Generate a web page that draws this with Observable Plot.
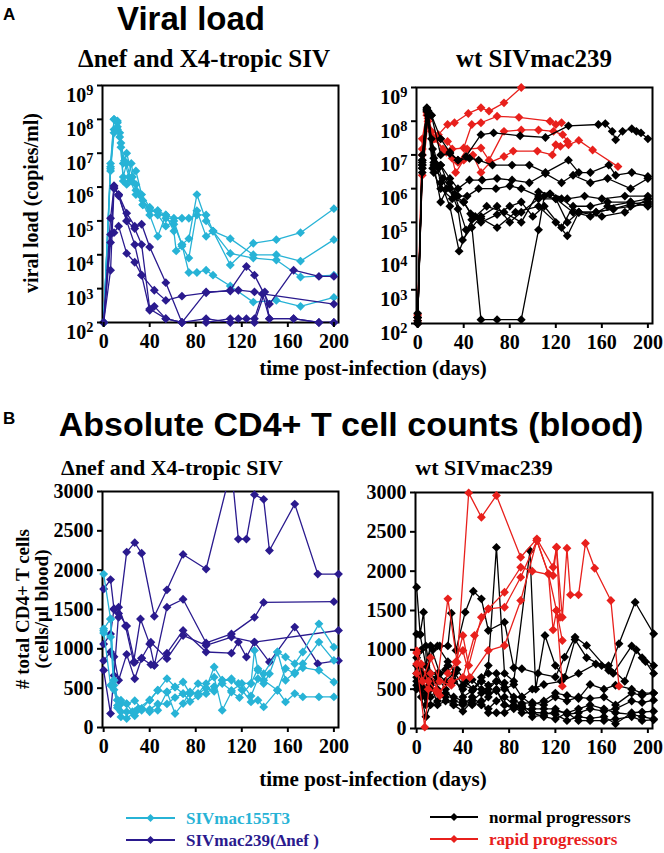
<!DOCTYPE html>
<html><head><meta charset="utf-8">
<script src="https://cdn.jsdelivr.net/npm/d3@7"></script>
<script src="https://cdn.jsdelivr.net/npm/@observablehq/plot@0.6"></script>
<style>
body{margin:0;background:#fff;}
#c{position:relative;width:664px;height:853px;overflow:hidden;background:#fff;}
#c > svg{position:absolute;}
</style></head><body><div id="c"></div>
<script>
// ---------- ticks ----------
const xTicks = [0, 40, 80, 120, 160, 200];
const vlTicks = [1e2, 1e3, 1e4, 1e5, 1e6, 1e7, 1e8, 1e9];
const cdTicks = [0, 500, 1000, 1500, 2000, 2500, 3000];

// ---------- A: viral load, Δnef / X4-tropic panel ----------
const vlT3 = [
 [[0,100],[6,5e6],[9,1e8],[12,9e7],[14,4e7],[17,5e6],[20,1e7],[25,2e6],[28,3e6],[33,6e5],[40,2.5e5],[47,2e5],[54,1.5e5],[61,1.2e5],[68,1.2e5],[74,1.2e5],[81,1.5e5],[89,1.5e5],[95,5e4],[110,5e3],[130,2.2e4],[150,2.8e4],[171,4.5e4],[200,2.3e5]],
 [[0,100],[6,4e6],[9,5e7],[12,8e7],[14,3e7],[17,2e6],[20,5e6],[24,1.5e6],[28,1.2e6],[31,6e5],[34,3e5],[40,2.5e5],[47,1.5e5],[54,7e4],[61,1e5],[68,2e4],[74,3e4],[81,6e5],[89,1e5],[95,5e4],[110,3e4],[130,1e4],[150,1e4],[171,6.5e3],[200,2.8e4]],
 [[0,100],[6,3e6],[9,4e7],[12,5e7],[15,1.5e7],[17,1.5e6],[20,1.2e6],[24,5e6],[28,8e5],[34,3e5],[40,1.5e5],[47,3.5e4],[54,1.5e5],[61,5e4],[63,1.3e4],[68,1.8e4],[74,8e3],[81,2e5],[89,3.5e4],[95,5e4],[110,1.1e4],[130,8e3],[150,7e3],[171,2.2e3],[200,2.5e3]],
 [[0,100],[6,3.5e6],[9,1e8],[12,6e7],[15,2e7],[18,6e6],[22,2e6],[28,6e5],[34,4e5],[40,2e5],[47,2e5],[54,1.2e5],[61,8e4],[68,2e4],[74,3e3],[81,3e3],[89,3.5e3],[95,2.5e3],[110,1.2e3],[130,4e2],[150,4.5e2],[171,3e2],[200,5.5e2]]
];
const vlDelta = [
 [[0,100],[6,2.3e4],[9,1.1e6],[13,6e5],[20,1.7e5],[27,7e4],[33,8e4],[40,1.7e4],[54,1.5e3],[68,100],[89,8e2],[110,8.5e2],[117,9e2],[131,8e2],[138,7e2],[200,3.5e2]],
 [[0,100],[6,3.5e3],[9,9e5],[13,6e5],[20,1e5],[27,2e4],[33,2.5e3],[40,2.3e2],[44,3e2],[54,1.3e2],[68,100],[89,100],[110,1.3e2],[117,1.3e2],[124,1.3e2],[131,1.3e2],[138,7e2],[144,1.3e2],[165,1.3e2],[187,100],[200,100]],
 [[0,100],[6,4e4],[9,4.5e4],[13,7e4],[20,1.1e4],[27,6e3],[33,2.5e3],[44,9e2],[54,4.5e2],[68,6e2],[89,7.5e2],[110,9e2],[124,4.5e3],[131,2.5e3],[144,3.5e2],[165,3.5e3],[187,2.3e3],[200,2.3e3]],
 [[0,100],[6,1.2e5],[9,1e6],[13,5.5e5],[20,1e5],[27,6e4],[33,2e4],[40,2.5e2],[54,1.3e2],[68,100],[89,1.3e2],[110,100],[131,100],[140,8e2],[144,1.3e2],[165,1.3e2],[187,100],[200,100]]
];

// ---------- A: viral load, wt SIVmac239 panel ----------
const vlRapid = [
 [[0,150],[4,3e7],[8,1.8e8],[12,5e7],[18,4e7],[26,8e7],[32,9e7],[44,1.7e8],[55,2.5e8],[62,2e8],[75,3.5e8],[90,1e9]],
 [[0,120],[4,1.5e7],[8,1.5e8],[13,3e7],[20,3e7],[26,2.5e7],[30,1.5e7],[40,1.6e7],[47,8e7],[55,9e7],[69,1.4e8],[88,1.3e8],[115,1e8],[120,8e7],[125,9e7]],
 [[0,180],[4,2.5e6],[9,1e8],[14,3e7],[22,1.5e7],[30,8e6],[33,3e6],[40,7e6],[48,1e7],[55,3e6],[63,6e6],[75,9e6],[83,1.3e7],[104,1.3e7],[117,1e7],[120,2e7],[124,1.8e7],[131,2e7],[140,2.7e7],[152,1.4e7],[174,4.5e6]],
 [[0,100],[4,1e7],[9,1.2e8],[15,3e7],[25,1.2e7],[35,6e6],[43,1.5e7],[55,1.6e7],[62,7e6],[75,5e7],[90,5.5e7],[105,5.5e7],[118,5e7],[126,4e7],[130,2.5e7]]
];
const vlNormal = [
 [[0,100],[4,7e6],[8,2.5e8],[12,1.5e8],[20,3e7],[28,1.2e7],[35,7e6],[42,9e6],[55,4e7],[66,4.5e7],[89,3.7e7],[111,3.3e7],[131,7.3e7],[157,8e7],[163,8.5e7],[169,5e7],[172,2.8e7],[178,5e7],[186,6e7],[190,5e7],[194,4.5e7],[200,3e7]],
 [[0,150],[4,4e6],[8,2e8],[12,3e7],[18,4e6],[25,1e6],[33,6e5],[40,4e5],[46,1.8e5],[55,130],[69,130],[90,130],[105,6e4],[110,6e5],[120,5e5],[130,1e5],[140,2e5],[155,2e5],[170,2.5e5],[185,3.5e5],[200,4e5]],
 [[0,100],[4,1e7],[8,2e8],[13,1.5e7],[20,1.5e6],[28,3e5],[36,1.4e4],[47,1.2e5],[55,1.3e5],[69,7e4],[85,2e5],[105,3e5],[120,1e5],[130,4e4],[140,2e5],[155,2e5],[170,2.5e5],[185,3e5],[200,3.5e5]],
 [[0,200],[4,5e6],[9,2e8],[14,8e6],[20,5e6],[28,1e6],[35,2.5e5],[39,3e4],[47,7e4],[55,1.5e5],[69,3e5],[80,1e5],[90,2e5],[105,5e5],[120,5e5],[135,2e5],[150,1.5e5],[165,3e5],[185,4e5],[200,5e5]],
 [[0,100],[4,7e6],[8,2.3e8],[12,1.5e8],[20,1e7],[28,1.1e7],[35,7e6],[45,8e6],[53,7e6],[65,5e6],[82,5e6],[97,5e6],[111,3e6],[131,7e6],[140,3e6],[150,3e6],[166,5e6],[172,2.5e6],[186,3e6],[200,2.3e6]],
 [[0,100],[4,4e6],[9,1.5e8],[14,6e6],[20,5e6],[28,2e6],[35,1e6],[45,1.8e6],[56,1.8e6],[69,2e6],[82,1.8e6],[97,1.5e6],[111,2.8e6],[125,1.5e6],[135,2.5e6],[150,1.5e6],[165,2e6],[185,1e6],[200,2e6]],
 [[0,120],[4,3e6],[9,1.8e8],[14,5e6],[20,4e5],[28,1.5e6],[35,6e5],[43,6e5],[53,1e6],[68,1e6],[80,1.2e6],[90,1e6],[105,6e5],[115,7e5],[130,5e5],[145,6e5],[160,5e5],[180,6e5],[200,6e5]],
 [[0,150],[4,5e6],[9,2e8],[14,3e6],[20,1e6],[30,5e5],[40,4e5],[48,1.5e5],[55,1e5],[69,1.7e5],[80,3e5],[90,4e5],[100,1.5e5],[110,3e5],[125,7e4],[135,3e5],[150,3e5],[165,4e5],[185,4e5],[200,3e5]],
 [[0,100],[4,6e6],[8,2.2e8],[13,4e6],[22,2e6],[32,7e5],[42,6e4],[50,1.5e5],[60,3e5],[75,2e5],[90,1e5],[105,8e5],[115,7e5],[125,5e5],[140,2e5],[160,1.5e5],[180,2e5],[200,5e5]]
];

// ---------- B: CD4 counts, Δnef / X4-tropic panel ----------
const cdT3 = [
 [[0,1950],[6,1380],[9,600],[12,350],[15,300],[20,300],[25,200],[30,240],[40,350],[47,473],[55,621],[62,515],[69,579],[75,431],[82,558],[89,500],[96,769],[103,600],[111,600],[117,560],[128,560],[131,980],[134,727],[139,684],[151,959],[158,896],[166,811],[173,959],[187,1318],[200,1022]],
 [[0,1255],[6,1380],[9,536],[12,346],[15,346],[20,304],[27,340],[33,240],[40,200],[47,220],[55,452],[62,177],[69,304],[75,452],[82,431],[89,558],[96,640],[103,220],[111,452],[118,380],[128,558],[134,748],[139,600],[151,473],[158,750],[166,684],[173,811],[187,1086],[200,853]],
 [[0,1230],[6,536],[9,600],[12,250],[15,135],[20,114],[27,200],[33,240],[40,346],[47,473],[55,452],[62,515],[69,430],[75,430],[82,430],[89,500],[96,460],[103,600],[111,620],[120,480],[128,325],[134,346],[139,262],[151,473],[158,325],[166,431],[173,389],[187,389],[200,389]],
 [[0,1200],[6,1150],[9,480],[12,280],[15,200],[20,200],[27,150],[33,220],[40,230],[47,300],[55,300],[62,380],[69,430],[75,330],[82,400],[89,430],[96,520],[103,560],[111,470],[120,560],[128,400],[134,620],[139,560],[144,684],[151,960],[158,600],[166,700],[173,760],[187,727],[200,579]]
];
const cdDelta = [
 [[0,1760],[6,1880],[9,1500],[13,1400],[20,2230],[27,2350],[33,2215],[44,1415],[55,1750],[69,2200],[89,2015],[111,3300],[117,2395],[124,2395],[131,2960],[139,2900],[144,2250],[166,2840],[186,1950],[204,1950]],
 [[0,1060],[6,1190],[9,1510],[13,1530],[19,1290],[26,830],[32,1380],[40,1060],[44,790],[55,1530],[69,1630],[89,1075],[111,1190],[131,1400],[139,1590],[200,1600]],
 [[0,850],[6,960],[9,900],[13,600],[20,930],[27,620],[33,880],[41,800],[44,790],[55,945],[69,1234],[89,960],[111,945],[117,1086],[124,896],[131,1086],[144,832],[166,1276],[186,811],[204,850]],
 [[0,727],[6,177],[9,660],[13,1450],[20,1290],[27,830],[33,880],[41,1084],[55,875],[69,1170],[89,1043],[111,1150],[131,1086],[204,1234]]
];

// ---------- B: CD4 counts, wt SIVmac239 panel ----------
const cdNormal = [
 [[0,1796],[3,1200],[6,1479],[9,700],[14,1000],[20,1050],[27,1050],[30,1466],[34,993],[42,1479],[49,1745],[56,1648],[62,1246],[76,1352],[84,773],[91,760],[105,700],[120,655],[128,908],[137,1162],[147,1056],[166,739],[175,1077],[189,1605],[205,1204]],
 [[0,1200],[3,1190],[8,800],[12,1050],[20,700],[27,800],[35,750],[42,600],[49,500],[56,600],[62,800],[69,2302],[76,700],[84,600],[98,2260],[103,500],[111,1183],[120,800],[128,650],[137,1130],[147,900],[160,800],[170,700],[186,1050],[195,900],[205,800]],
 [[0,900],[4,600],[8,500],[12,1050],[18,1050],[27,850],[33,700],[40,550],[49,500],[56,650],[62,700],[69,700],[76,500],[84,560],[91,400],[100,500],[110,560],[125,600],[140,700],[155,820],[166,800],[180,600],[190,1000],[198,850],[205,700]],
 [[0,700],[4,500],[8,300],[12,550],[18,700],[25,600],[32,700],[40,400],[48,480],[56,600],[62,550],[69,600],[76,580],[84,350],[91,320],[100,330],[110,300],[120,400],[130,350],[140,400],[150,380],[162,400],[172,300],[186,450],[195,420],[205,450]],
 [[0,600],[4,400],[8,150],[12,300],[18,350],[25,450],[32,400],[40,350],[48,320],[56,300],[62,400],[69,500],[76,300],[84,280],[91,250],[100,250],[110,250],[120,250],[130,180],[140,200],[150,250],[162,220],[172,250],[186,350],[195,330],[205,360]],
 [[0,500],[4,700],[8,400],[12,500],[18,650],[25,500],[32,350],[40,320],[48,300],[56,350],[62,200],[69,200],[76,200],[84,280],[91,200],[100,200],[110,200],[120,180],[130,100],[140,150],[150,130],[162,150],[172,60],[186,200],[195,210],[205,220]],
 [[0,650],[4,550],[8,450],[12,400],[18,500],[25,400],[32,300],[40,300],[48,400],[56,300],[62,250],[69,350],[76,400],[84,300],[91,280],[100,150],[110,170],[120,220],[130,200],[140,100],[150,100],[162,100],[172,120],[186,150],[195,100],[205,110]],
 [[0,550],[4,800],[8,650],[12,600],[18,300],[25,350],[32,300],[40,220],[48,350],[56,450],[62,500],[69,600],[76,520],[84,400],[91,400],[100,300],[110,350],[120,450],[130,420],[140,380],[150,560],[162,500],[172,550],[186,500],[195,450],[205,450]],
 [[0,800],[4,1000],[8,1050],[12,700],[18,600],[25,750],[32,600],[40,500],[48,620],[56,500],[62,450],[69,480],[76,300],[84,250],[91,300],[100,200],[110,150],[120,120],[130,200],[140,250],[150,300],[162,250],[172,200],[186,180],[195,150],[205,120]]
];
const cdRapid = [
 [[0,990],[4,820],[10,600],[17,486],[27,1648],[35,843],[45,2995],[56,2686],[69,2962],[90,2177],[104,2411],[118,2050],[121,2304],[126,1415],[130,2292],[133,1699],[140,1699],[146,2355],[154,2037],[168,1627],[175,538]],
 [[0,820],[7,17],[12,700],[20,420],[27,700],[34,843],[40,1182],[45,800],[56,1415],[62,1521],[76,1542],[90,1923],[104,2390],[114,1966],[118,1254],[121,1500],[126,1118]],
 [[0,960],[5,600],[12,900],[20,600],[30,550],[34,850],[40,991],[46,650],[62,991],[76,1055],[90,1627],[104,2390],[114,1966],[121,1500],[126,538]],
 [[0,700],[10,500],[18,450],[30,600],[40,650],[50,1182],[62,1521],[76,1732],[90,2050],[100,2000],[118,1945],[121,2304],[124,1415]]
];

// ---------- legend labels ----------
const legendLeft = ["SIVmac155T3", "SIVmac239(\u0394nef )"];
const legendRight = ["normal progressors", "rapid progressors"];

// ---------- styles ----------
const CYAN = "#27b3d6", NAVY = "#2a1a8e", RED = "#e8201c", BLACK = "#000";
const SERIF = "'Liberation Serif','Times New Roman',serif";
const SANS = "'Liberation Sans',Arial,Helvetica,sans-serif";
const container = document.getElementById("c");

function rowsOf(series) {
  const out = [];
  series.forEach((s, i) => s.forEach(([d, v]) => out.push({id: i, day: d, value: v})));
  return out;
}

function panel({left, top, width, height, mL, mT, mB, mR, log, groups}) {
  const yMax = log ? 1e9 : 3000;
  const marks = [Plot.frame({stroke: "black", strokeWidth: 2})];
  for (const g of groups) {
    const rows = rowsOf(g.data);
    marks.push(Plot.line(rows, {x: "day", y: "value", z: "id", stroke: g.color, strokeWidth: 1.3, clip: true}));
    marks.push(Plot.dot(rows.filter(r => r.value <= yMax), {x: "day", y: "value", symbol: "diamond2", r: 4, fill: g.color, stroke: "none"}));
  }
  marks.push(Plot.axisX(xTicks, {tickSize: 5, tickPadding: 6, strokeWidth: 2, label: null}));
  marks.push(Plot.axisY(log ? vlTicks : cdTicks, {
    tickSize: 5, tickPadding: 4, strokeWidth: 2, label: null,
    tickFormat: log ? (d => "10^" + Math.round(Math.log10(d))) : (d => String(d))
  }));
  const svg = Plot.plot({
    width, height, marginLeft: mL, marginTop: mT, marginBottom: mB, marginRight: mR,
    x: {domain: [-1, 204], label: null},
    y: log ? {type: "log", domain: [100, 1e9], label: null} : {domain: [0, 3000], label: null},
    style: {background: "transparent", overflow: "visible", fontFamily: SERIF, fontSize: "20px", fontWeight: "bold", color: "black"},
    marks
  });
  svg.style.left = left + "px";
  svg.style.top = top + "px";
  svg.querySelectorAll('[aria-label="y-axis tick label"] text').forEach(t => {
    const s = t.textContent;
    if (!s.includes("^")) return;
    const [b, e] = s.split("^");
    t.textContent = "";
    t.setAttribute("dy", "0.5em");
    const ns = "http://www.w3.org/2000/svg";
    const t1 = document.createElementNS(ns, "tspan"); t1.textContent = b; t.appendChild(t1);
    const t2 = document.createElementNS(ns, "tspan"); t2.textContent = e;
    t2.setAttribute("dy", "-0.45em"); t2.setAttribute("font-size", "0.72em"); t.appendChild(t2);
  });
  container.appendChild(svg);
}

panel({left: 0, top: 75, width: 342, height: 287, mL: 102, mT: 10, mB: 40, mR: 4, log: true,
  groups: [{data: vlT3, color: CYAN}, {data: vlDelta, color: NAVY}]});
panel({left: 330, top: 77, width: 326, height: 286, mL: 86, mT: 10, mB: 40, mR: 4, log: true,
  groups: [{data: vlRapid, color: RED}, {data: vlNormal, color: BLACK}]});
panel({left: 0, top: 481, width: 342, height: 286, mL: 102, mT: 10, mB: 40, mR: 4, log: false,
  groups: [{data: cdDelta, color: NAVY}, {data: cdT3, color: CYAN}]});
panel({left: 330, top: 482, width: 326, height: 286, mL: 85, mT: 10, mB: 40, mR: 4, log: false,
  groups: [{data: cdNormal, color: BLACK}, {data: cdRapid, color: RED}]});

// ---------- overlay text ----------
const ov = d3.select(container).append("svg")
  .attr("width", 664).attr("height", 853)
  .style("left", "0px").style("top", "0px").style("overflow", "visible");

function txt(s, x, y, opts) {
  const t = ov.append("text").attr("x", x).attr("y", y)
    .attr("font-family", opts.sans ? SANS : SERIF)
    .attr("font-weight", "bold")
    .attr("font-size", opts.size)
    .attr("text-anchor", opts.anchor || "middle")
    .attr("fill", opts.color || "black")
    .text(s);
  if (opts.rotate) t.attr("transform", `rotate(-90,${x},${y})`);
  return t;
}

txt("A", 3, 20, {sans: true, size: 17, anchor: "start"});
txt("Viral load", 191, 30, {sans: true, size: 33});
txt("\u0394nef and X4-tropic SIV", 204, 67, {size: 25});
txt("wt SIVmac239", 534, 67, {size: 25});
txt("viral load (copies/ml)", 38, 203, {size: 20, rotate: true});
txt("time post-infection (days)", 373, 375, {size: 21});

txt("B", 3, 424, {sans: true, size: 17, anchor: "start"});
txt("Absolute CD4+ T cell counts (blood)", 351, 436, {sans: true, size: 34});
txt("\u0394nef and X4-tropic SIV", 172, 475, {size: 22});
txt("wt SIVmac239", 484, 475, {size: 22});
txt("# total CD4+ T cells", 29, 609, {size: 19, rotate: true});
txt("(cells/\u03bcl blood)", 48, 609, {size: 19, rotate: true});
txt("time post-infection (days)", 373, 786, {size: 21});

// ---------- legend ----------
function legendItem(x0, x1, y, color, label) {
  ov.append("line").attr("x1", x0).attr("x2", x1).attr("y1", y).attr("y2", y)
    .attr("stroke", color).attr("stroke-width", 2);
  const cx = (x0 + x1) / 2, r = 4;
  ov.append("path").attr("d", `M${cx},${y - r}L${cx + r},${y}L${cx},${y + r}L${cx - r},${y}Z`).attr("fill", color);
  txt(label, x1 + 11, y + 6, {size: 17, anchor: "start", color});
}
legendItem(126, 175, 818, CYAN, legendLeft[0]);
legendItem(126, 175, 840, NAVY, legendLeft[1]);
legendItem(430, 478, 817, BLACK, legendRight[0]);
legendItem(430, 478, 839, RED, legendRight[1]);
</script></body></html>
